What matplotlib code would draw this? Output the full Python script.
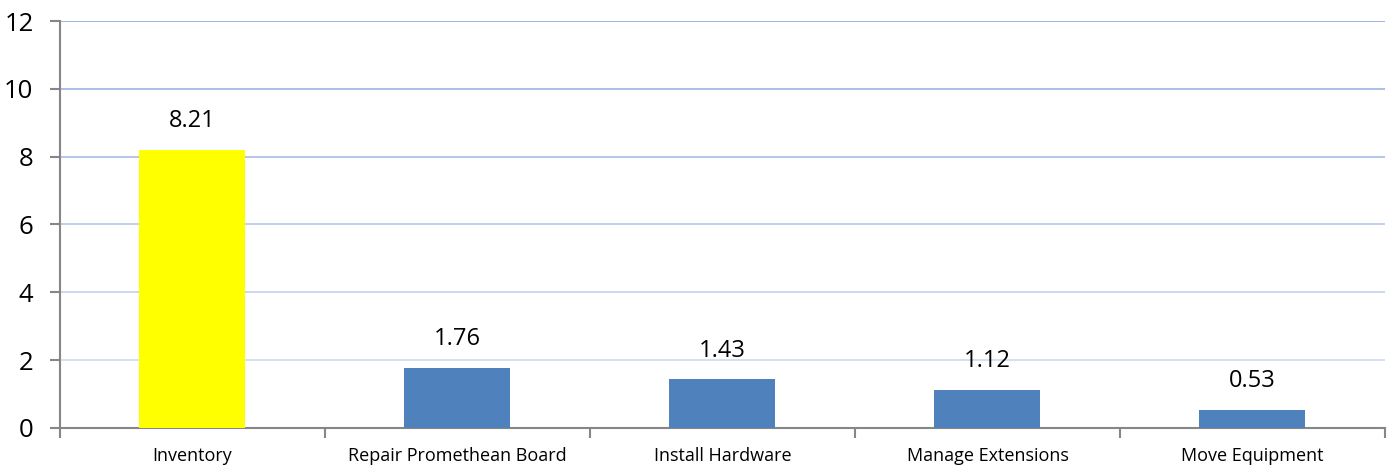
import numpy as np
import matplotlib.pyplot as plt
from matplotlib.colors import to_rgb

# ─────────────────────────────────────────
# Data
# ─────────────────────────────────────────
tasks  = ['Inventory', 'Repair Promethean Board', 'Install Hardware',
          'Manage Extensions', 'Move Equipment']
hours  = [8.21, 1.76, 1.43, 1.12, 0.53]
colors = ['#ffff00', '#4f81bd', '#4f81bd', '#4f81bd', '#4f81bd']
yticks = [0, 2, 4, 6, 8, 10, 12]

plt.rcParams['font.family'] = ['Open Sans', 'DejaVu Sans']

fig = plt.figure(figsize=(13.94, 4.70), dpi=100)
ax = fig.add_axes([0.0430, 0.0894, 0.9505, 0.8659])

x = np.arange(len(tasks))
ax.bar(x, hours, width=0.4, color=colors, zorder=3)

for xi, v in zip(x, hours):
    ax.text(xi, v + 0.5, f'{v:.2f}', ha='center', va='bottom', fontsize=17)

# gridlines fade from blue at the top to pale at the bottom
top_c = np.array(to_rgb('#97b0e2'))
bot_c = np.array(to_rgb('#dfe6f5'))
for yv in yticks[1:]:
    f = yv / yticks[-1]
    ax.axhline(yv, color=bot_c + (top_c - bot_c) * f, lw=1.3, zorder=1)

ax.set_xlim(-0.5, len(tasks) - 0.5)
ax.set_ylim(0, 12)
ax.set_yticks(yticks)
ax.set_yticklabels([str(t) for t in yticks], fontsize=18.5)

ax.set_xticks(x)
ax.set_xticklabels(tasks, fontsize=13)
ax.tick_params(axis='x', length=0, pad=14)
ax.set_xticks(np.arange(len(tasks) + 1) - 0.5, minor=True)
ax.tick_params(axis='x', which='minor', length=7, width=1.5, color='#868686')
ax.tick_params(axis='y', length=7, width=1.5, color='#868686', pad=12)

for s in ['top', 'right']:
    ax.spines[s].set_visible(False)
for s in ['left', 'bottom']:
    ax.spines[s].set_color('#868686')
    ax.spines[s].set_linewidth(1.5)

plt.savefig('out.png', dpi=100)
